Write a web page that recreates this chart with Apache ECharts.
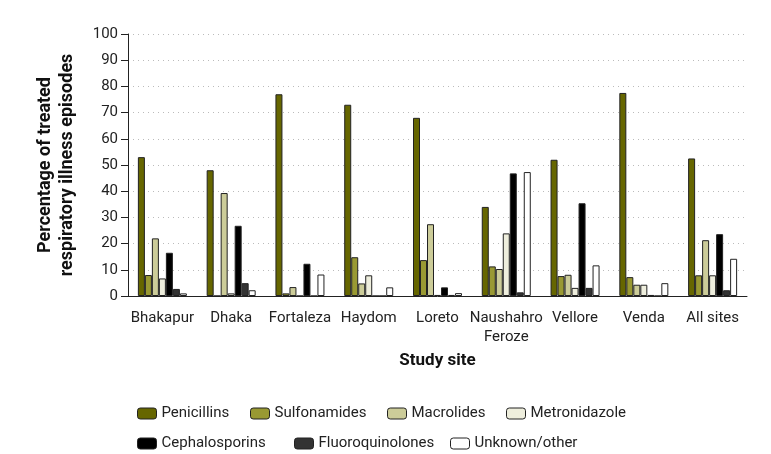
<!DOCTYPE html>
<html>
<head>
<meta charset="utf-8">
<script src="https://cdn.jsdelivr.net/npm/echarts@6/dist/echarts.min.js"></script>
<style>
  html, body { margin: 0; padding: 0; background: #fff; }
  #main { width: 771px; height: 454px; }
</style>
</head>
<body>
<div id="main"></div>
<script>
var sites = ["Bhakapur", "Dhaka", "Fortaleza", "Haydom", "Loreto", "Naushahro\nFeroze", "Vellore", "Venda", "All sites"];
var yTicks = [0, 10, 20, 30, 40, 50, 60, 70, 80, 90, 100];

var penicillins      = [53, 48, 77, 73, 68, 34, 52, 77.5, 52.5];
var sulfonamides     = [8, 0, 1, 14.8, 13.7, 11.3, 7.6, 7.2, 7.9];
var macrolides       = [22, 39.3, 3.4, 4.8, 27.4, 10.3, 8.1, 4.3, 21.3];
var metronidazole    = [6.7, 1, 0, 7.9, 0.4, 23.9, 3.1, 4.3, 7.9];
var cephalosporins   = [16.5, 26.8, 12.3, 0, 3.3, 46.8, 35.4, 0.4, 23.6];
var fluoroquinolones = [2.7, 4.9, 0, 0, 0.4, 1.4, 3.1, 0, 2.2];
var unknownOther     = [1, 2.2, 8.2, 3.3, 1.1, 47.3, 11.7, 4.9, 14.2];

var font = "Roboto, 'DejaVu Sans Condensed', sans-serif";

var seriesDefs = [
  { name: "Penicillins", data: penicillins, color: "#666600", lx: 132, ly: 401 },
  { name: "Sulfonamides", data: sulfonamides, color: "#999933", lx: 245, ly: 401 },
  { name: "Macrolides", data: macrolides, color: "#cccc99", lx: 382, ly: 401 },
  { name: "Metronidazole", data: metronidazole, color: "#eeeedd", lx: 501, ly: 401 },
  { name: "Cephalosporins", data: cephalosporins, color: "#000000", lx: 132, ly: 431 },
  { name: "Fluoroquinolones", data: fluoroquinolones, color: "#333333", lx: 289, ly: 431 },
  { name: "Unknown/other", data: unknownOther, color: "#ffffff", lx: 445, ly: 431 }
];

var myChart = echarts.init(document.getElementById("main"));

var option = {
  animation: false,
  textStyle: { fontFamily: font },
  grid: { left: 128, right: 24, top: 34, bottom: 158 },
  legend: seriesDefs.map(function (s) {
    return {
      data: [s.name],
      left: s.lx,
      top: s.ly,
      itemWidth: 19,
      itemHeight: 11,
      itemGap: 6,
      textStyle: { fontFamily: font, fontSize: 15, color: "#222" },
      itemStyle: { borderColor: "#222", borderWidth: 1 }
    };
  }),
  xAxis: {
    type: "category",
    data: sites,
    name: "Study site",
    nameLocation: "middle",
    nameGap: 56,
    nameTextStyle: { fontFamily: font, fontSize: 17, fontWeight: "bold", color: "#111" },
    axisLine: { lineStyle: { color: "#222", width: 1 } },
    axisTick: { length: 7, lineStyle: { color: "#222" } },
    axisLabel: { fontFamily: font, fontSize: 15, color: "#222", margin: 13, lineHeight: 19, interval: 0 }
  },
  yAxis: {
    type: "value",
    min: yTicks[0],
    max: yTicks[yTicks.length - 1],
    interval: 10,
    name: "Percentage of treated\nrespiratory illness episodes",
    nameLocation: "middle",
    nameGap: 50,
    nameTextStyle: { fontFamily: font, fontSize: 18, fontWeight: "bold", color: "#111", lineHeight: 22 },
    axisLine: { show: true, lineStyle: { color: "#222", width: 1 } },
    axisTick: { show: true, length: 7, lineStyle: { color: "#222" } },
    axisLabel: { fontFamily: font, fontSize: 15, color: "#222", margin: 10 },
    splitLine: { show: true, lineStyle: { color: "#bbbbbb", type: [1, 4], width: 1.2 } }
  },
  series: seriesDefs.map(function (s) {
    return {
      name: s.name,
      type: "bar",
      data: s.data,
      barWidth: 7,
      barGap: "0%",
      itemStyle: { color: s.color, borderColor: "#222", borderWidth: 1 }
    };
  })
};

myChart.setOption(option);
</script>
</body>
</html>
